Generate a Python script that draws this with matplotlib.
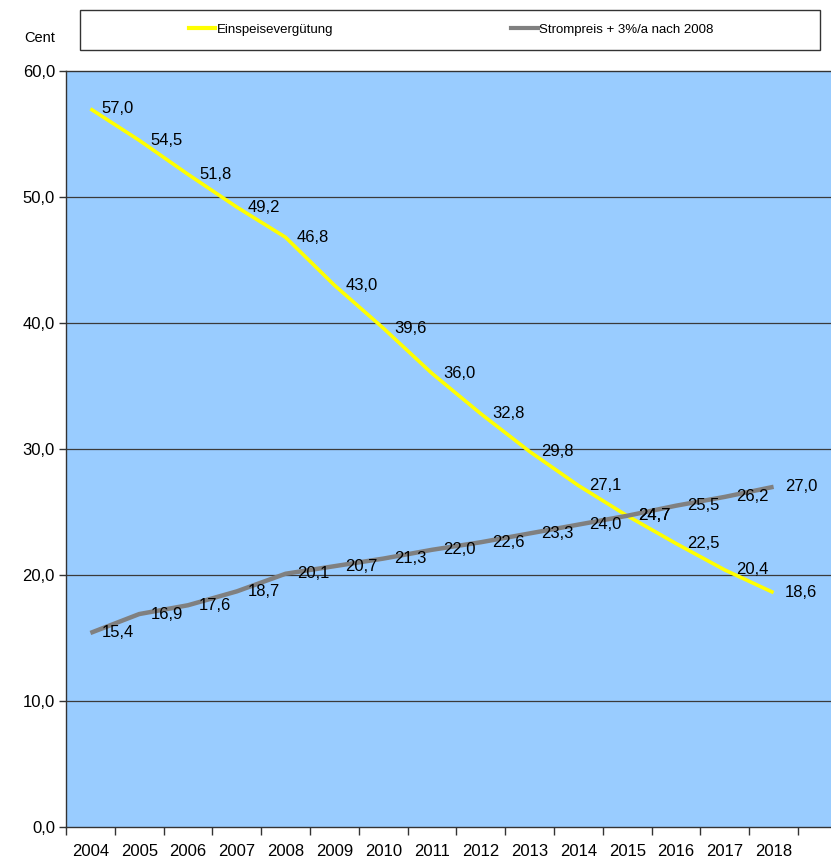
import matplotlib
matplotlib.use("Agg")
import matplotlib.pyplot as plt
from matplotlib.lines import Line2D
from matplotlib.patches import Rectangle
import numpy as np

years = ["2004", "2005", "2006", "2007", "2008", "2009", "2010", "2011",
         "2012", "2013", "2014", "2015", "2016", "2017", "2018"]
einspeise = [57.0, 54.5, 51.8, 49.2, 46.8, 43.0, 39.6, 36.0, 32.8, 29.8,
             27.1, 24.7, 22.5, 20.4, 18.6]
strompreis = [15.4, 16.9, 17.6, 18.7, 20.1, 20.7, 21.3, 22.0, 22.6, 23.3,
              24.0, 24.7, 25.5, 26.2, 27.0]
yticks = [0, 10, 20, 30, 40, 50, 60]
ytick_labels = ["0,0", "10,0", "20,0", "30,0", "40,0", "50,0", "60,0"]

plt.rcParams['font.family'] = ['Liberation Sans Narrow', 'Liberation Sans', 'DejaVu Sans']

fig = plt.figure(figsize=(8.31, 8.65), dpi=100)
ax = fig.add_axes([66/831, 38/865, 1 - 66/831, (827-71)/865])
ax.set_facecolor('#99CCFF')

x = np.arange(len(years))
ax.plot(x, einspeise, color='#FFFF00', lw=2.6, solid_capstyle='butt', zorder=3)
ax.plot(x, strompreis, color='#808080', lw=3.2, solid_capstyle='butt', zorder=3)

def fmt(v):
    return f"{v:.1f}".replace(".", ",")

for xi, v in zip(x, einspeise):
    ax.annotate(fmt(v), (xi, v), xytext=(8, 0), textcoords='offset points',
                ha='left', va='center', fontsize=12, color='black', zorder=4)
for xi, v in zip(x, strompreis):
    ax.annotate(fmt(v), (xi, v), xytext=(8, 0), textcoords='offset points',
                ha='left', va='center', fontsize=12, color='black', zorder=4)

ax.set_xlim(-0.5, 14.5 + 33/48.8)
ax.set_ylim(0, 60)
ax.set_yticks(yticks)
ax.set_yticklabels(ytick_labels, fontsize=12)
ax.tick_params(axis='y', direction='out', length=5, width=1, color='#333333', pad=3)
for yv in yticks[1:-1]:
    ax.axhline(yv, color='#3A3A3A', lw=0.9, zorder=1)

ax.set_xticks(x)
ax.set_xticklabels(years, fontsize=12)
ax.set_xticks(np.arange(-0.5, 15.0, 1.0), minor=True)
ax.tick_params(axis='x', which='major', length=0, pad=12)
ax.tick_params(axis='x', which='minor', direction='out', length=6, width=1, color='#333333')

for side in ['right']:
    ax.spines[side].set_visible(False)
for side in ['left', 'bottom', 'top']:
    ax.spines[side].set_color('#333333')
    ax.spines[side].set_linewidth(1.0)

# legend frame
fig.patches.append(Rectangle((80/831, 1 - 50/865), 740/831, 40/865,
                             transform=fig.transFigure, facecolor='white',
                             edgecolor='#333333', lw=1.0, zorder=0))
handles = [Line2D([], [], color='#FFFF00', lw=3), Line2D([], [], color='#808080', lw=3)]
fig.legend(handles, ["Einspeisevergütung", "Strompreis + 3%/a nach 2008"],
           loc='center', bbox_to_anchor=(451/831, 1 - 30/865), ncol=2,
           frameon=False, fontsize=9.5, handlelength=2.0, handletextpad=0.1,
           columnspacing=13.5)

fig.text(40/831, 1 - 38/865, "Cent", ha='center', va='center', fontsize=10.5)

fig.savefig("out.png", dpi=100)
